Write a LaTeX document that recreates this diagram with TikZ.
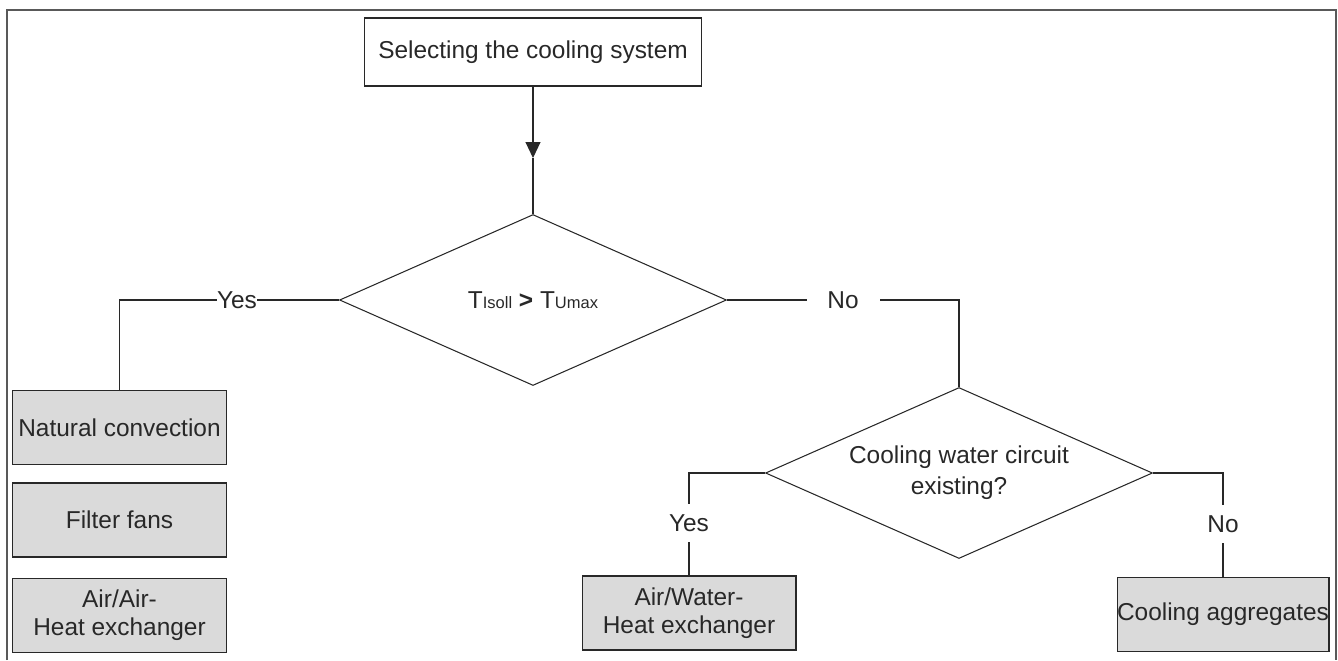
\documentclass[tikz,border=0pt]{standalone}
\usepackage{fontspec}
\setmainfont{Liberation Sans}
\usetikzlibrary{arrows.meta,shapes.geometric,positioning}
\definecolor{boxgray}{RGB}{218,218,218}
\definecolor{ink}{RGB}{40,40,40}
\newcommand{\tsub}[1]{{\fontsize{9.4}{10}\selectfont #1}}

\begin{document}
\begin{tikzpicture}[x=0.02cm, y=-0.02cm,
  every node/.style={font=\fontsize{13.9}{16}\selectfont, text=ink},
  box/.style={draw=ink, line width=0.6pt, align=center, minimum width=6.74cm, minimum height=1.36cm, inner sep=0pt},
  result/.style={draw=ink, line width=0.6pt, fill=boxgray, align=center, minimum width=4.28cm, minimum height=1.48cm, inner sep=0pt},
  dec/.style={draw=ink, line width=0.6pt, diamond, aspect=2.27, align=center, inner sep=0pt, minimum width=7.74cm, minimum height=3.42cm},
  lbl/.style={fill=white, inner xsep=0pt, inner ysep=1pt},
  arr/.style={-{Triangle[length=3.2mm,width=3mm]}},
  conn/.style={draw=ink, line width=0.6pt},
]
\useasboundingbox (0,0) rectangle (1338,660);
\draw[gray!70!black, line width=0.9pt] (7,660) -- (7,10) -- (1336,10) -- (1336,660);

\node[box] (top) at (533,52) {Selecting the cooling system};
\coordinate (tip) at (533,158);
\node[dec] (d1) at (533,300) {T\tsub{Isoll} \textbf{>} T\tsub{Umax}};

\node[result] (nat) at (119.5,427.5) {Natural convection};
\node[result] (filt) at (119.5,520) {Filter fans};
\node[result] (airair) at (119.5,615.5) {Air/Air-\\Heat exchanger};

\node[dec] (d2) at (959,473) {Cooling water circuit\\[1.5pt]existing?};
\node[result] (airwater) at (689,613) {Air/Water-\\Heat exchanger};
\node[result, minimum width=4.24cm] (aggr) at (1223,614.5) {Cooling aggregates};

\draw[conn, arr] (top) -- (tip);
\draw[conn] (tip) -- (d1);
\draw[conn] (d1.west) -| (nat.north);
\node[lbl] (yes1) at (237,300) {Yes};
\draw[conn] (d1.east) -| (d2.north);
\node[lbl, minimum width=1.46cm] (no1) at (843,300) {No};
\draw[conn] (d2.west) -| (airwater.north);
\node[lbl, inner ysep=6pt] (yes2) at (689,523) {Yes};
\draw[conn] (d2.east) -| (aggr.north);
\node[lbl, inner ysep=6pt] (no2) at (1223,524) {No};

\end{tikzpicture}
\end{document}
